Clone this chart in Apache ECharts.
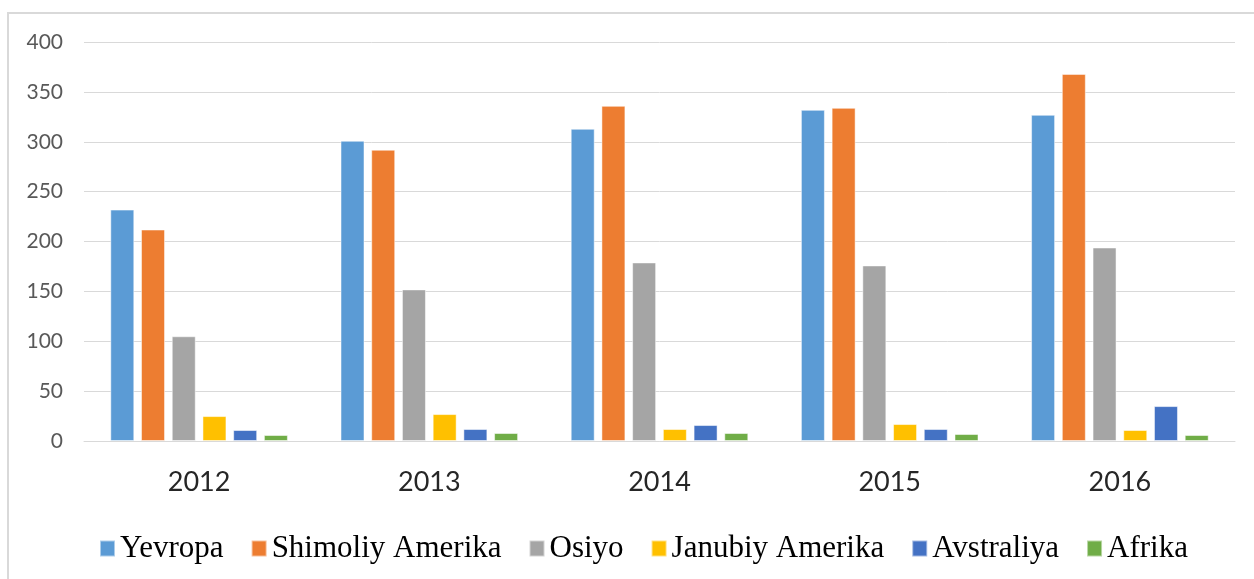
<!DOCTYPE html>
<html>
<head>
<meta charset="utf-8">
<script src="https://cdn.jsdelivr.net/npm/echarts@6/dist/echarts.min.js"></script>
<style>
  html, body { margin: 0; padding: 0; background: #fff; }
  #chart { width: 1254px; height: 579px; }
</style>
</head>
<body>
<div id="chart"></div>
<script>
// categories and values
var years = ['2012', '2013', '2014', '2015', '2016'];
var yTicks = [0, 50, 100, 150, 200, 250, 300, 350, 400];

var yevropa = [232, 301, 313, 332, 327];
var shimoliyAmerika = [212, 292, 336, 334, 368];
var osiyo = [105, 152, 179, 176, 194];
var janubiyAmerika = [25, 27, 12, 17, 11];
var avstraliya = [11, 12, 16, 12, 35];
var afrika = [6, 8, 8, 7, 6];

var seriesNames = ['Yevropa', 'Shimoliy Amerika', 'Osiyo', 'Janubiy Amerika', 'Avstraliya', 'Afrika'];
var seriesData = [yevropa, shimoliyAmerika, osiyo, janubiyAmerika, avstraliya, afrika];
var colors = ['#5B9BD5', '#ED7D31', '#A5A5A5', '#FFC000', '#4472C4', '#70AD47'];

var chart = echarts.init(document.getElementById('chart'));

var option = {
  animation: false,
  color: colors,
  grid: {
    left: 84,
    right: 19,
    top: 42,
    bottom: 138
  },
  // light frame around the chart area (left and top edges visible)
  graphic: [{
    type: 'rect',
    shape: { x: 8, y: 13, width: 1400, height: 700 },
    style: { fill: 'none', stroke: '#d9d9d9', lineWidth: 2 },
    silent: true
  }],
  legend: {
    data: seriesNames,
    left: 94,
    top: 528,
    itemWidth: 15,
    itemHeight: 16,
    itemGap: 27,
    icon: 'rect',
    textStyle: {
      fontFamily: 'Liberation Serif',
      fontSize: 31,
      color: '#000'
    }
  },
  xAxis: {
    type: 'category',
    data: years,
    axisLine: { show: true, lineStyle: { color: '#d9d9d9', width: 1 } },
    axisTick: { show: false },
    axisLabel: {
      fontFamily: 'Lato',
      fontSize: 27,
      color: '#262626',
      margin: 28
    }
  },
  yAxis: {
    type: 'value',
    min: yTicks[0],
    max: yTicks[yTicks.length - 1],
    interval: 50,
    axisLine: { show: false },
    axisTick: { show: false },
    splitLine: { lineStyle: { color: '#d9d9d9', width: 1 } },
    axisLabel: {
      fontFamily: 'Lato',
      fontSize: 21,
      color: '#595959',
      margin: 21
    }
  },
  series: seriesNames.map(function (name, i) {
    return {
      name: name,
      type: 'bar',
      data: seriesData[i],
      barWidth: 24,
      barGap: '28%',
      itemStyle: {
        color: colors[i],
        borderColor: 'rgba(255,255,255,0.5)',
        borderWidth: 1
      }
    };
  })
};

chart.setOption(option);
</script>
</body>
</html>
